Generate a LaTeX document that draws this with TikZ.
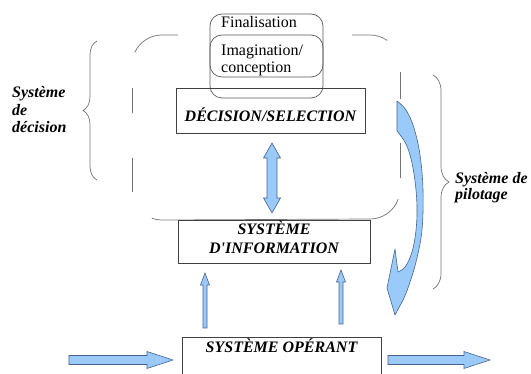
\documentclass[tikz,border=0pt]{standalone}
\usepackage{fontspec}
\setmainfont{Liberation Serif}
\usetikzlibrary{decorations.pathreplacing,calc}
\definecolor{arrowblue}{RGB}{153,202,250}
\definecolor{arrowline}{RGB}{70,100,140}
\begin{document}
\begin{tikzpicture}[x=1pt,y=-1pt,
  box/.style={draw=black!75, line width=0.7pt, inner sep=0pt},
  rbox/.style={draw=black!65, rounded corners=12pt, line width=0.7pt, inner sep=0pt},
  frame/.style={draw=black!55, line width=0.7pt},
  bi/.style={font=\fontsize{16}{18}\selectfont\bfseries\itshape, inner sep=0pt},
  reg/.style={font=\fontsize{16}{17}\selectfont, inner sep=0pt},
  barrow/.style={fill=arrowblue, draw=arrowline, line width=0.6pt, line join=miter},
  brc/.style={draw=black!55, line width=0.7pt, decorate},
]
\useasboundingbox (0,0) rectangle (531,374);
\clip (0,0) rectangle (531,374);

% --- rounded (broken) frame of decision system
\draw[frame] (134.8,52.3) arc[start angle=155, end angle=90, radius=30pt] -- (178,35);
\draw[frame] (352,35) -- (370,35) arc[start angle=90, end angle=55, radius=30pt];
\draw[frame] (400,72) -- (400,99);
\draw[frame] (400,143) -- (400,178);
\draw[frame] (132,88) -- (132,113);
\draw[frame] (132,158) -- (132,192);
\draw[frame] (151.7,218.2) arc[start angle=250, end angle=270, radius=30pt] -- (370,219)
  arc[start angle=270, end angle=340, radius=30pt];

% --- finalisation / imagination
\node[rbox, minimum width=113pt, minimum height=84pt] (fin) at (266.5,56) {};
\node[rbox, minimum width=113pt, minimum height=42pt] (ima) at (266.5,56) {};
\node[reg, anchor=base west] (fintext) at (221,27.5) {Finalisation};
\node[reg, anchor=base west] (imatext1) at (221,56) {Imagination/};
\node[reg, anchor=base west] (imatext2) at (221,72.5) {conception};

% --- boxes
\node[box, minimum width=189pt, minimum height=45pt] (dec) at (270.5,110.5) {};
\node[bi, anchor=base] (dectext) at (270.5,121.5) {DÉCISION/SELECTION};

\node[box, minimum width=192pt, minimum height=43pt] (info) at (274,241.5) {};
\node[bi, anchor=base] (infotext1) at (274,234.5) {SYSTÈME};
\node[bi, anchor=base] (infotext2) at (274,253.5) {D\textquotesingle INFORMATION};

\node[box, minimum width=199pt, minimum height=70pt] (oper) at (281.5,372) {};
\node[bi, anchor=base] (opertext) at (281.5,352.5) {SYSTÈME OPÉRANT};

% --- double arrow decision <-> information
\draw[barrow] (272,143) -- (280.5,158) -- (277,158) -- (277,198) -- (280.5,198) -- (272,213)
  -- (263.5,198) -- (267,198) -- (267,158) -- (263.5,158) -- cycle;

% --- thin up arrows operant -> information
\draw[barrow] (205,273) -- (209.5,285) -- (207,285) -- (207,328) -- (203,328) -- (203,285) -- (200.5,285) -- cycle;
\draw[barrow] (341,270) -- (345.5,282) -- (343,282) -- (343,324) -- (339,324) -- (339,282) -- (336.5,282) -- cycle;

% --- horizontal arrows in / out
\draw[barrow] (69,355.5) -- (147,355.5) -- (147,351.5) -- (173,360) -- (147,368.5) -- (147,364.5) -- (69,364.5) -- cycle;
\draw[barrow] (388,355.5) -- (464,355.5) -- (464,351.5) -- (490,360) -- (464,368.5) -- (464,364.5) -- (388,364.5) -- cycle;

% --- curved pilot arrow
\draw[barrow, line join=round]
  plot[smooth, tension=0.6] coordinates {(397,101) (406,110) (414,128) (420,155) (423,190) (422,230) (416,262) (408,288) (403,300)}
  -- (395,315) -- (387,288) -- (395,249) --
  plot[smooth, tension=0.6] coordinates {(398,272) (405,267) (411,255) (415,238) (417,215) (416,190) (412,163) (406,144) (397,131)}
  -- cycle;

% --- braces and labels
\coordinate (lb1) at (97,180);
\coordinate (lb2) at (97,41);
\draw[brc, decoration={brace, amplitude=14pt}] (lb1) -- (lb2);
\node[bi, anchor=base west] (sdec1) at (12,98) {Système};
\node[bi, anchor=base west] (sdec2) at (12,115.5) {de};
\node[bi, anchor=base west] (sdec3) at (12,133) {décision};

\coordinate (rb1) at (433,75);
\coordinate (rb2) at (433,289);
\draw[brc, decoration={brace, amplitude=16pt}] (rb1) -- (rb2);
\node[bi, anchor=base west] (spil1) at (455,184) {Système de};
\node[bi, anchor=base west] (spil2) at (455,200) {pilotage};
\end{tikzpicture}
\end{document}
